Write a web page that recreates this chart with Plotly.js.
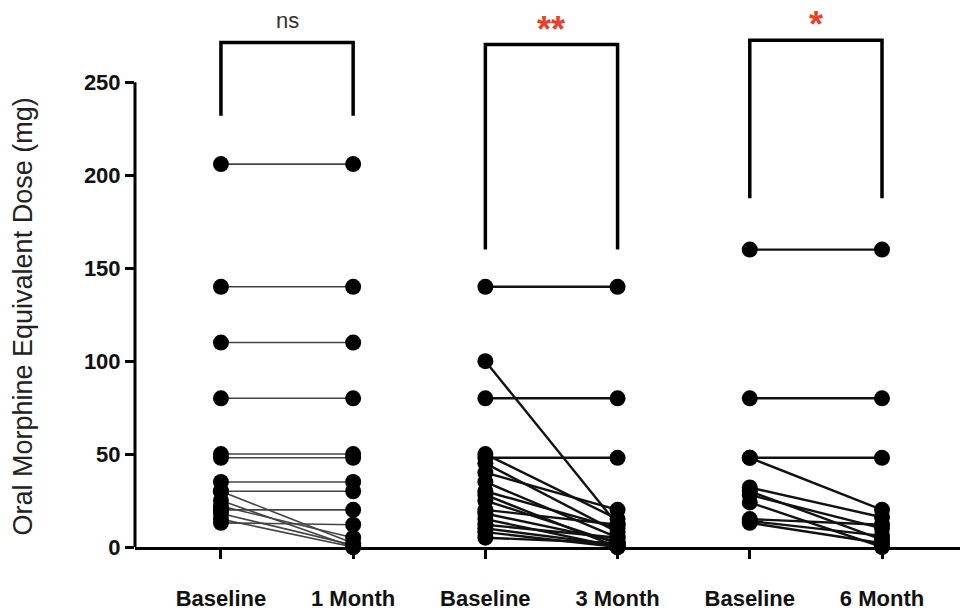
<!DOCTYPE html>
<html>
<head>
<meta charset="utf-8">
<script src="https://cdn.plot.ly/plotly-3.0.1.min.js"></script>
<style>html,body{margin:0;padding:0;background:#fff;}#chart{width:964px;height:612px;}</style>
</head>
<body>
<div id="chart"></div>
<script>
// ---- data ----
const tickLabels = ["Baseline", "1 Month", "Baseline", "3 Month", "Baseline", "6 Month"];
const yTicks = [0, 50, 100, 150, 200, 250];
const yTitle = "Oral Morphine Equivalent Dose (mg)";

const g1Baseline = [206, 140, 110, 80, 50, 48, 35, 30, 30, 25, 22, 20, 18, 15, 13];
const g1Month1   = [206, 140, 110, 80, 50, 48, 35, 30, 2, 0, 5, 20, 1, 0, 12];

const g2Baseline = [140, 100, 80, 48, 50, 45, 40, 35, 30, 28, 25, 20, 18, 15, 12, 10, 8, 5];
const g2Month3   = [140, 12, 80, 48, 15, 8, 20, 5, 10, 0, 2, 12, 3, 0, 5, 1, 0, 2];

const g3Baseline = [160, 80, 48, 48, 32, 30, 28, 24, 15, 14, 13];
const g3Month6   = [160, 80, 48, 20, 16, 4, 10, 0, 12, 6, 2];

const sigLabels = ["ns", "**", "*"];
const sigColors = ["#333333", "#e8402a", "#e8402a"];
const bracketTop = [271.5, 270.4, 272.6];
const bracketBottom = [232, 160, 187.6];
const labelY = [283, 281, 284];

// ---- build traces ----
function pairTrace(base, post, xb, xa, lineColor, lineWidth) {
  const xs = [], ys = [];
  for (let i = 0; i < base.length; i++) {
    xs.push(xb, xa, null);
    ys.push(base[i], post[i], null);
  }
  return {
    type: "scatter", mode: "lines+markers", x: xs, y: ys,
    line: {color: lineColor, width: lineWidth},
    marker: {color: "#000", size: 16},
    cliponaxis: false, hoverinfo: "skip", showlegend: false
  };
}

const traces = [
  pairTrace(g1Baseline, g1Month1, 0, 1, "#444444", 1.6),
  pairTrace(g2Baseline, g2Month3, 2, 3, "#111111", 2.4),
  pairTrace(g3Baseline, g3Month6, 4, 5, "#111111", 2.4)
];

const shapes = [
  // y axis line only up to 250
  {type: "line", xref: "paper", yref: "y", x0: 0, x1: 0, y0: 0, y1: yTicks[yTicks.length - 1],
   line: {color: "#000", width: 3}}
];
const annotations = [
  {xref: "paper", yref: "y", x: 0, y: 124, xshift: -112, xanchor: "center", yanchor: "middle",
   text: yTitle, textangle: -90, showarrow: false,
   font: {family: "Liberation Sans, Arial", size: 27, color: "#222"}}
];
for (let g = 0; g < 3; g++) {
  const xl = 2 * g, xr = 2 * g + 1;
  shapes.push({type: "path", xref: "x", yref: "y",
    path: `M ${xl},${bracketBottom[g]} L ${xl},${bracketTop[g]} L ${xr},${bracketTop[g]} L ${xr},${bracketBottom[g]}`,
    line: {color: "#000", width: 3.5}});
  const isNs = g === 0;
  annotations.push({x: (xl + xr) / 2, y: labelY[g], xref: "x", yref: "y",
    text: sigLabels[g], showarrow: false, yshift: isNs ? 1 : -5,
    font: {family: "Liberation Sans, Arial", size: isNs ? 22 : 36, color: sigColors[g], weight: isNs ? "normal" : "bold"}});
}

const layout = {
  width: 964, height: 612,
  margin: {l: 135, r: 4, t: 8, b: 65},
  paper_bgcolor: "#fff", plot_bgcolor: "#fff",
  showlegend: false,
  xaxis: {
    range: [-0.65, 5.59], tickvals: [0, 1, 2, 3, 4, 5], ticktext: tickLabels,
    showgrid: false, zeroline: false, showline: true, linecolor: "#000", linewidth: 3,
    ticks: "outside", ticklen: 9, tickwidth: 3, tickcolor: "#000",
    ticklabelstandoff: 21,
    tickfont: {family: "Liberation Sans, Arial", size: 22, color: "#111", weight: "bold"}
  },
  yaxis: {
    range: [0, 290], tickvals: yTicks,
    showgrid: false, zeroline: false, showline: false,
    ticks: "outside", ticklen: 9, tickwidth: 3, tickcolor: "#000",
    tickfont: {family: "Liberation Sans, Arial", size: 22, color: "#111", weight: "bold"}
  },
  shapes: shapes,
  annotations: annotations
};

Plotly.newPlot("chart", traces, layout, {displayModeBar: false, staticPlot: true});
</script>
</body>
</html>
